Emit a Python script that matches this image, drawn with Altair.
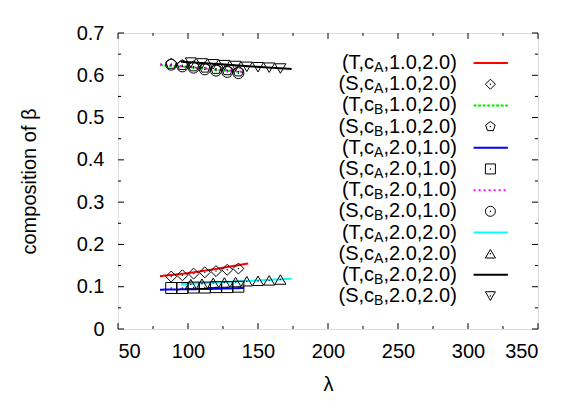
import altair as alt
import pandas as pd

# ---- data ----
T_cA_12_x = [80, 100, 120, 143]
T_cA_12_y = [0.125, 0.132, 0.142, 0.155]
S_cA_12_x = [88, 96, 104, 112, 120, 128, 136]
S_cA_12_y = [0.124, 0.127, 0.131, 0.134, 0.137, 0.140, 0.143]

T_cB_12_x = [80, 100, 120, 140]
T_cB_12_y = [0.624, 0.619, 0.613, 0.607]
S_cB_12_x = [88, 96, 104, 112, 120, 128, 136]
S_cB_12_y = [0.627, 0.624, 0.621, 0.618, 0.615, 0.612, 0.609]

T_cA_21_x = [80, 100, 120, 140]
T_cA_21_y = [0.093, 0.094, 0.095, 0.097]
S_cA_21_x = [88, 96, 104, 112, 120, 128, 136]
S_cA_21_y = [0.097, 0.097, 0.098, 0.098, 0.099, 0.099, 0.100]

T_cB_21_x = [80, 100, 120, 140]
T_cB_21_y = [0.626, 0.620, 0.614, 0.608]
S_cB_21_x = [88, 96, 104, 112, 120, 128, 136]
S_cB_21_y = [0.625, 0.621, 0.618, 0.614, 0.611, 0.608, 0.605]

T_cA_22_x = [95, 120, 145, 174]
T_cA_22_y = [0.106, 0.110, 0.114, 0.119]
S_cA_22_x = [102, 110, 118, 126, 134, 142, 150, 158, 166]
S_cA_22_y = [0.106, 0.107, 0.109, 0.110, 0.111, 0.113, 0.114, 0.115, 0.117]

T_cB_22_x = [95, 120, 145, 174]
T_cB_22_y = [0.632, 0.627, 0.621, 0.615]
S_cB_22_x = [102, 110, 118, 126, 134, 142, 150, 158, 166]
S_cB_22_y = [0.630, 0.628, 0.626, 0.624, 0.622, 0.620, 0.619, 0.618, 0.616]

series_ids = ["T_cA_12", "S_cA_12", "T_cB_12", "S_cB_12", "T_cA_21", "S_cA_21",
              "T_cB_21", "S_cB_21", "T_cA_22", "S_cA_22", "T_cB_22", "S_cB_22"]
label_pre = ["(T,c", "(S,c", "(T,c", "(S,c", "(T,c", "(S,c",
             "(T,c", "(S,c", "(T,c", "(S,c", "(T,c", "(S,c"]
label_sub = ["A", "A", "B", "B", "A", "A", "B", "B", "A", "A", "B", "B"]
label_post = [",1.0,2.0)", ",1.0,2.0)", ",1.0,2.0)", ",1.0,2.0)",
              ",2.0,1.0)", ",2.0,1.0)", ",2.0,1.0)", ",2.0,1.0)",
              ",2.0,2.0)", ",2.0,2.0)", ",2.0,2.0)", ",2.0,2.0)"]

x_ticks = [50, 100, 150, 200, 250, 300, 350]
y_ticks = [0, 0.1, 0.2, 0.3, 0.4, 0.5, 0.6, 0.7]

# ---- styles ----
line_ids = ["T_cA_12", "T_cB_12", "T_cA_21", "T_cB_21", "T_cA_22", "T_cB_22"]
line_colors = ["#ff0000", "#00ee00", "#0000ff", "#ff00ff", "#00ffff", "#000000"]
line_dash = [[1, 0], [3, 1.5], [1, 0], [2, 3], [1, 0], [1, 0]]
pt_ids = ["S_cA_12", "S_cB_12", "S_cA_21", "S_cB_21", "S_cA_22", "S_cB_22"]
pentagon = "M0,-1L0.951,-0.309L0.588,0.809L-0.588,0.809L-0.951,-0.309Z"
pt_shapes = ["diamond", pentagon, "square", "circle", "triangle-up", "triangle-down"]

src = {
    "T_cA_12": (T_cA_12_x, T_cA_12_y), "S_cA_12": (S_cA_12_x, S_cA_12_y),
    "T_cB_12": (T_cB_12_x, T_cB_12_y), "S_cB_12": (S_cB_12_x, S_cB_12_y),
    "T_cA_21": (T_cA_21_x, T_cA_21_y), "S_cA_21": (S_cA_21_x, S_cA_21_y),
    "T_cB_21": (T_cB_21_x, T_cB_21_y), "S_cB_21": (S_cB_21_x, S_cB_21_y),
    "T_cA_22": (T_cA_22_x, T_cA_22_y), "S_cA_22": (S_cA_22_x, S_cA_22_y),
    "T_cB_22": (T_cB_22_x, T_cB_22_y), "S_cB_22": (S_cB_22_x, S_cB_22_y),
}
rows = []
for sid, (xs, ys) in src.items():
    for i, (a, b) in enumerate(zip(xs, ys)):
        rows.append({"series": sid, "lam": a, "val": b, "order": i})
df = pd.DataFrame(rows)
lines_df = df[df.series.isin(line_ids)]
pts_df = df[df.series.isin(pt_ids)]

# legend table (in data coordinates)
leg_rows = []
for i, sid in enumerate(series_ids):
    leg_rows.append({"series": sid, "pre": label_pre[i], "sub": label_sub[i],
                     "post": label_post[i], "ly": 0.629 - 0.0501 * i,
                     "lx_text": 292, "lx1": 304, "lx2": 328.5, "lxp": 316})
leg = pd.DataFrame(leg_rows)
leg_lines = leg[leg.series.isin(line_ids)]
leg_pts = leg[leg.series.isin(pt_ids)]

# inward ticks as rules (data coords)
tick_rows = []
for v in x_ticks:
    tick_rows.append({"x": v, "x2": v, "y": 0, "y2": 0.014})
    tick_rows.append({"x": v, "x2": v, "y": 0.7, "y2": 0.686})
for v in [75, 125, 175, 225, 275, 325]:
    tick_rows.append({"x": v, "x2": v, "y": 0, "y2": 0.007})
    tick_rows.append({"x": v, "x2": v, "y": 0.7, "y2": 0.693})
for v in y_ticks:
    tick_rows.append({"x": 50, "x2": 54.3, "y": v, "y2": v})
    tick_rows.append({"x": 350, "x2": 345.7, "y": v, "y2": v})
for v in [0.05, 0.15, 0.25, 0.35, 0.45, 0.55, 0.65]:
    tick_rows.append({"x": 50, "x2": 52.2, "y": v, "y2": v})
    tick_rows.append({"x": 350, "x2": 347.8, "y": v, "y2": v})
ticks = pd.DataFrame(tick_rows)

FONT = "Liberation Sans"
xscale = alt.Scale(domain=[50, 350], nice=False, zero=False)
yscale = alt.Scale(domain=[0, 0.7], nice=False)
xaxis = alt.Axis(values=x_ticks, ticks=False, grid=False, domain=False, title="λ",
                 labelFontSize=20, titleFontSize=20, labelFont=FONT, titleFont=FONT,
                 titleFontWeight="normal", labelPadding=12, titlePadding=13,
                 labelColor="black", titleColor="black")
yaxis = alt.Axis(values=y_ticks, ticks=False, grid=False, domain=False,
                 title="composition of β",
                 labelExpr="datum.value == 0 ? '0' : format(datum.value, '.1f')",
                 labelFontSize=20, titleFontSize=20, labelFont=FONT, titleFont=FONT,
                 titleFontWeight="normal", labelPadding=14, titlePadding=37,
                 labelColor="black", titleColor="black")

def X(f):
    return alt.X(f, type="quantitative", scale=xscale, axis=xaxis)

def Y(f):
    return alt.Y(f, type="quantitative", scale=yscale, axis=yaxis)

color = alt.Color("series:N", scale=alt.Scale(domain=line_ids, range=line_colors), legend=None)
dash = alt.StrokeDash("series:N", scale=alt.Scale(domain=line_ids, range=line_dash), legend=None)
shape = alt.Shape("series:N", scale=alt.Scale(domain=pt_ids, range=pt_shapes), legend=None)

lines = alt.Chart(lines_df).mark_line(strokeWidth=2).encode(
    x=X("lam"), y=Y("val"), color=color, strokeDash=dash, detail="series:N", order="order:Q")
points = alt.Chart(pts_df).mark_point(filled=False, color="black", size=120, strokeWidth=1, opacity=1).encode(
    x=X("lam"), y=Y("val"), shape=shape)
dots = alt.Chart(pts_df).mark_point(filled=True, color="black", size=2, opacity=1).encode(
    x=X("lam"), y=Y("val"))

leg_rule = alt.Chart(leg_lines).mark_rule(strokeWidth=2).encode(
    x=X("lx1"), x2="lx2", y=Y("ly"), color=color, strokeDash=dash)
leg_pt = alt.Chart(leg_pts).mark_point(filled=False, color="black", size=100, strokeWidth=1, opacity=1).encode(
    x=X("lxp"), y=Y("ly"), shape=shape)
leg_dot = alt.Chart(leg_pts).mark_point(filled=True, color="black", size=2, opacity=1).encode(
    x=X("lxp"), y=Y("ly"))
t_post = alt.Chart(leg).mark_text(align="right", baseline="middle", fontSize=20, font=FONT, color="black").encode(
    x=X("lx_text"), y=Y("ly"), text="post:N")
t_sub = alt.Chart(leg).mark_text(align="right", baseline="middle", fontSize=14, font=FONT, color="black",
                                  dx=-73.4, dy=5).encode(
    x=X("lx_text"), y=Y("ly"), text="sub:N")
t_pre = alt.Chart(leg).mark_text(align="right", baseline="middle", fontSize=20, font=FONT, color="black",
                                  dx=-82.7).encode(
    x=X("lx_text"), y=Y("ly"), text="pre:N")

tick_layer = alt.Chart(ticks).mark_rule(color="black", strokeWidth=1).encode(
    x=X("x"), x2="x2", y=Y("y"), y2="y2")

chart = alt.layer(tick_layer, lines, points, dots, leg_rule, leg_pt, leg_dot, t_post, t_sub, t_pre).properties(
    width=420, height=296,
    autosize=alt.AutoSizeParams(type="none"),
    padding={"left": 110, "top": 25, "right": 30, "bottom": 66},
).configure_view(stroke="black", strokeWidth=1).configure(background="white")

chart.save("out.html", embed_options={"renderer": "svg", "actions": False})
